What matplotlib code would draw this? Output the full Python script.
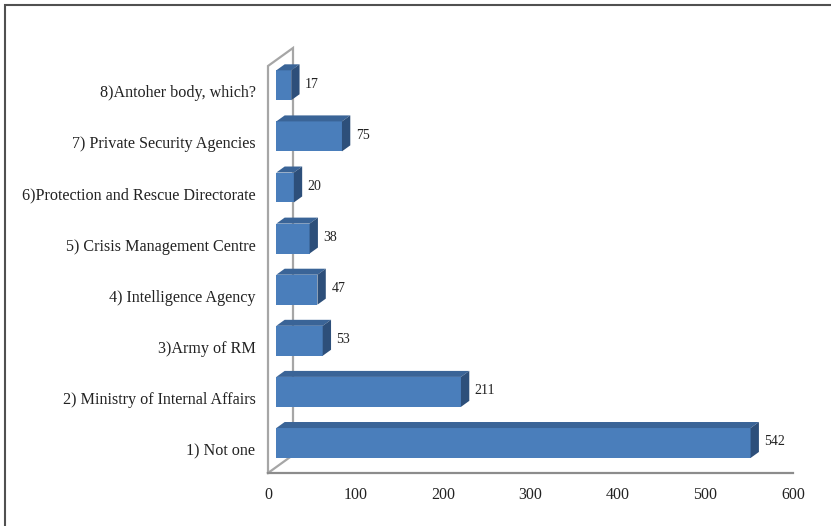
import matplotlib
matplotlib.use("Agg")
from matplotlib import pyplot as plt
from matplotlib.patches import Polygon, Rectangle

categories = ["1) Not one", "2) Ministry of Internal Affairs", "3)Army of RM",
              "4) Intelligence Agency", "5) Crisis Management Centre",
              "6)Protection and Rescue Directorate", "7) Private Security Agencies",
              "8)Antoher body, which?"]
values = [542, 211, 53, 47, 38, 20, 75, 17]
x_ticks = [0, 100, 200, 300, 400, 500, 600]

plt.rcParams['font.family'] = ['Liberation Serif', 'DejaVu Serif']

W, H = 831, 526
fig = plt.figure(figsize=(W / 100, H / 100), dpi=100)

# axes placed so that 0..600 spans the floor line in pixels
y_lo, y_hi = -0.47, 8.0
ax_left, ax_right = 268, 793
ax_bottom_px = 473
px_per_cat = 51.1
ax_h = (y_hi - y_lo) * px_per_cat
ax = fig.add_axes([ax_left / W, (H - ax_bottom_px) / H, (ax_right - ax_left) / W, ax_h / H])
ax.set_xlim(0, 600)
ax.set_ylim(y_lo, y_hi)
ax.patch.set_visible(False)
for s in ax.spines.values():
    s.set_visible(False)

# depth offset of the 3d box (in data units)
px_per_x = (ax_right - ax_left) / 600
DX = 25 / px_per_x
DY = 18 / px_per_cat
half = 0.293  # half height of bar front face

front_c = '#4a7ebb'
top_c = '#3a6497'
side_c = '#2d4f7a'
wall_c = '#a6a6a6'


def proj(x, y, d):
    return (x + d * DX, y + d * DY)


# wall + floor
wall_top = 7.495
ax.plot([0, 0, DX, DX, 0], [y_lo, wall_top, wall_top + DY, y_lo + DY, y_lo],
        color=wall_c, lw=1.6, zorder=1, solid_joinstyle='miter', clip_on=False)
ax.plot([0, 600], [y_lo, y_lo], color='#8c8c8c', lw=1.6, zorder=1, clip_on=False)

d0, d1 = 1 / 3, 2 / 3
for i, v in enumerate(values):
    yb, yt = i - half, i + half
    # front
    p = [proj(0, yb, d0), proj(v, yb, d0), proj(v, yt, d0), proj(0, yt, d0)]
    ax.add_patch(Polygon(p, closed=True, fc=front_c, ec='none', zorder=3))
    # top
    p = [proj(0, yt, d0), proj(v, yt, d0), proj(v, yt, d1), proj(0, yt, d1)]
    ax.add_patch(Polygon(p, closed=True, fc=top_c, ec='none', zorder=3))
    # side
    p = [proj(v, yb, d0), proj(v, yt, d0), proj(v, yt, d1), proj(v, yb, d1)]
    ax.add_patch(Polygon(p, closed=True, fc=side_c, ec='none', zorder=3))
    lx, ly = proj(v, i, 0.4)
    ax.annotate(str(v), (v + d1 * DX, ly), xytext=(4, 0), textcoords='offset points',
                ha='left', va='center', fontsize=10, color='#222222')

ax.set_yticks(range(len(categories)))
ax.set_yticklabels(categories, fontsize=11.6, color='#222222')
ax.tick_params(axis='y', length=0, pad=9)
ax.set_xticks(x_ticks)
ax.set_xticklabels([str(t) for t in x_ticks], fontsize=11.5, color='#222222')
ax.tick_params(axis='x', length=0, pad=10)

# outer frame (only top and left visible in the original crop)
fig.patches.append(Rectangle((5 / W, -0.1), 1.2, (H - 5) / H + 0.1,
                             transform=fig.transFigure, fill=False,
                             ec='#505050', lw=1.5, figure=fig))

fig.savefig('out.png', dpi=100)
